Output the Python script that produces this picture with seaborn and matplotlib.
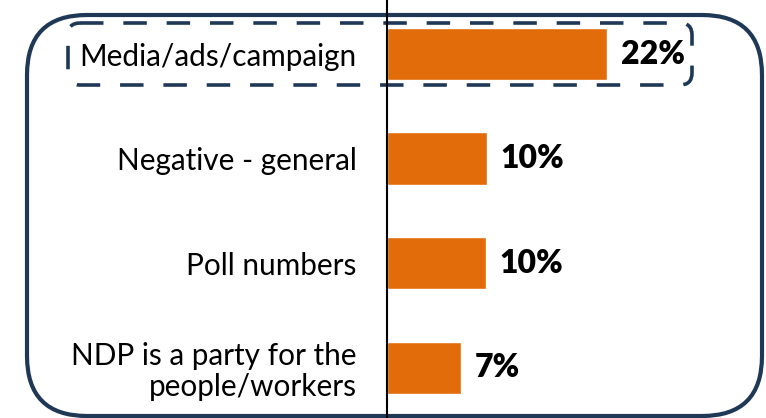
import matplotlib
matplotlib.use("Agg")
import matplotlib.pyplot as plt
from matplotlib.patches import FancyBboxPatch
import seaborn as sns

categories = ["Media/ads/campaign", "Negative - general", "Poll numbers",
              "NDP is a party for the\npeople/workers"]
values = [22, 10, 9.9, 7.4]
value_labels = ["22%", "10%", "10%", "7%"]

bar_color = "#E36C0A"
navy = "#1F3856"
fs_cat = 21.4
fs_val = 23

sns.set_style("white")
plt.rcParams["font.family"] = ["Lato", "DejaVu Sans"]

W, H = 766, 418
fig = plt.figure(figsize=[W / 100, H / 100], dpi=100)

# background layer in pixel units for the rounded frames
bg = fig.add_axes([0, 0, 1, 1])
bg.set_xlim(0, W)
bg.set_ylim(H, 0)
bg.axis("off")
bg.add_patch(FancyBboxPatch((27, 15), 735, 401, boxstyle="round,pad=0,rounding_size=60",
                            fill=False, edgecolor=navy, linewidth=3))
bg.add_patch(FancyBboxPatch((68, 23), 624, 62, boxstyle="round,pad=0,rounding_size=12",
                            fill=False, edgecolor=navy, linewidth=2.6,
                            linestyle=(0, (6.5, 5.5))))

x0 = 387
ax = fig.add_axes([x0 / W, 0, (W - x0) / W, 1])
ax.patch.set_visible(False)
sns.barplot(x=values, y=categories, orient="h", color=bar_color, width=0.5,
            saturation=1, ax=ax)
ax.set_xlim(0, (W - x0) / 10)
ax.set_ylim(3.478, -0.516)

for c in ax.containers:
    ax.bar_label(c, labels=value_labels, padding=10, fontsize=fs_val,
                 fontweight="heavy", color="black")

for s in ["top", "right", "bottom"]:
    ax.spines[s].set_visible(False)
ax.spines["left"].set_color("black")
ax.spines["left"].set_linewidth(1.5)
ax.set_xticks([])
ax.tick_params(axis="y", length=0, pad=22, labelsize=fs_cat)
for t in ax.get_yticklabels():
    t.set_linespacing(1.1)
    t.set_color("black")
ax.set_xlabel("")
ax.set_ylabel("")

fig.savefig("out.png", dpi=100)
